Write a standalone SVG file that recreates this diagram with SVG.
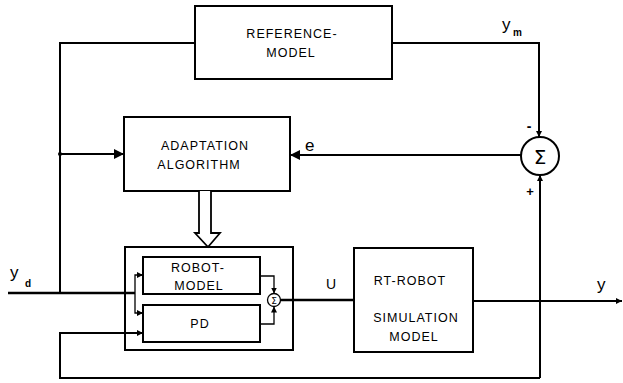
<svg xmlns="http://www.w3.org/2000/svg" width="623" height="383" viewBox="0 0 623 383">
<style>
.box{fill:none;stroke:#000;stroke-width:2}
.ln{fill:none;stroke:#000;stroke-width:2}
.thin{fill:none;stroke:#000;stroke-width:1.3}
.t{font-family:"Liberation Sans",Arial,sans-serif;font-size:12.5px;letter-spacing:1px;fill:#000;text-anchor:middle}
.lbl{font-family:"Liberation Sans",Arial,sans-serif;font-size:17px;fill:#000}
.sub{font-family:"Liberation Sans",Arial,sans-serif;font-size:10px;fill:#000;font-weight:bold}
</style>
<defs>
<marker id="ah" viewBox="0 0 10 10" refX="10" refY="5" markerWidth="6" markerHeight="6" markerUnits="userSpaceOnUse" orient="auto"><path d="M0,0 L10,5 L0,10 z" fill="#000"/></marker>
<marker id="ahb" viewBox="0 0 10 10" refX="10" refY="5" markerWidth="10" markerHeight="10" markerUnits="userSpaceOnUse" orient="auto"><path d="M0,0 L10,5 L0,10 z" fill="#000"/></marker>
</defs>
<rect width="623" height="383" fill="#fff"/>
<g id="reference-model">
<rect class="box" x="195" y="6" width="197" height="73"/>
<text class="t" x="292" y="38">REFERENCE-</text>
<text class="t" x="291" y="57">MODEL</text>
</g>
<g id="adaptation-algorithm">
<rect class="box" x="124" y="117" width="166" height="74"/>
<text class="t" x="205" y="150">ADAPTATION</text>
<text class="t" x="199" y="169">ALGORITHM</text>
</g>
<g id="controller">
<rect class="box" x="125" y="247" width="168" height="103"/>
</g>
<g id="robot-model">
<rect class="box" x="143" y="257" width="117" height="37"/>
<text class="t" x="198" y="272">ROBOT-</text>
<text class="t" x="199" y="290">MODEL</text>
</g>
<g id="pd">
<rect class="box" x="143" y="305" width="117" height="37"/>
<text class="t" x="200" y="328">PD</text>
</g>
<g id="sum-small">
<circle class="thin" cx="274" cy="300" r="6.5"/>
<text x="274" y="304" style="font-family:'DejaVu Sans',sans-serif;font-size:9px;text-anchor:middle">Σ</text>
</g>
<g id="rt-robot">
<rect class="box" x="354" y="248" width="119" height="104"/>
<text class="t" x="410" y="285">RT-ROBOT</text>
<text class="t" x="416" y="322">SIMULATION</text>
<text class="t" x="414" y="341">MODEL</text>
</g>
<g id="sum">
<circle class="box" cx="540" cy="156" r="19"/>
<text x="540" y="164" style="font-family:'DejaVu Sans',sans-serif;font-size:20px;text-anchor:middle">Σ</text>
</g>
<g id="connectors">
<polyline class="ln" points="195,43 60,43 60,293"/>
<line class="ln" x1="60" y1="154" x2="124" y2="154" marker-end="url(#ahb)"/>
<circle cx="60" cy="154" r="2" fill="#000"/>
<polyline class="ln" points="392,43 539,43 539,137" marker-end="url(#ah)"/>
<line class="ln" x1="521" y1="155" x2="290" y2="155" marker-end="url(#ahb)"/>
<polyline class="ln" points="540,378 540,175" marker-end="url(#ah)"/>
<line class="ln" x1="8" y1="293" x2="135" y2="293" style="stroke-width:2.5"/>
<polyline class="thin" points="143,275 135,275 135,313 143,313"/>
<line class="thin" x1="137" y1="275" x2="143" y2="275" marker-end="url(#ah)"/>
<line class="thin" x1="137" y1="313" x2="143" y2="313" marker-end="url(#ah)"/>
<polyline class="thin" points="260,276 274,276 274,293.5" marker-end="url(#ah)"/>
<polyline class="thin" points="260,324 274,324 274,306.5" marker-end="url(#ah)"/>
<line class="ln" x1="280.5" y1="300" x2="354" y2="300" style="stroke-width:2.5"/>
<line class="ln" x1="473" y1="301" x2="622" y2="301" marker-end="url(#ah)"/>
<polyline class="ln" points="540,378 60,378 60,333 143,333" marker-end="url(#ah)"/>
<path d="M199,191 L199,233 L195,233 L208,247 L220,233 L211,233 L211,191" fill="#fff" stroke="#000" stroke-width="1.8"/>
</g>
<g id="labels">
<text class="lbl" x="10" y="278">y</text>
<text class="sub" x="25" y="287">d</text>
<text class="lbl" x="502" y="30">y</text>
<text class="sub" x="513" y="36">m</text>
<text class="lbl" x="305" y="151">e</text>
<text class="lbl" x="326" y="289" style="font-size:14px">U</text>
<text class="lbl" x="597" y="290">y</text>
<text x="529" y="131" style="font-family:'Liberation Sans',sans-serif;font-size:14px;font-weight:bold;text-anchor:middle">-</text>
<text x="530" y="196" style="font-family:'Liberation Sans',sans-serif;font-size:13px;font-weight:bold;text-anchor:middle">+</text>
</g>
</svg>
